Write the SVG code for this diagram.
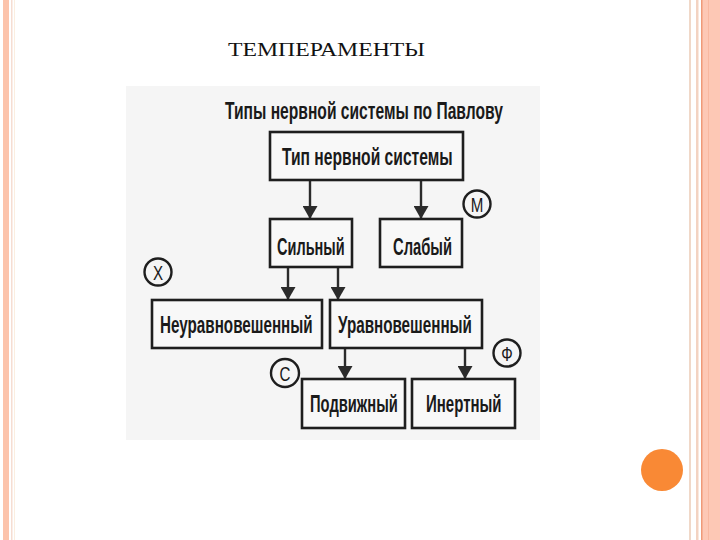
<svg xmlns="http://www.w3.org/2000/svg" width="720" height="540" viewBox="0 0 720 540">
<defs>
<marker id="ah" viewBox="0 0 13 15" refX="13" refY="7.5" markerWidth="13" markerHeight="15" markerUnits="userSpaceOnUse" orient="auto">
<path d="M0,0 L13,7.5 L0,15 Z" fill="#2b2b2b"/>
</marker>
<style>
.box{fill:#f8f8f8;stroke:#1e1e1e;stroke-width:2.6}
.t{font-family:"Liberation Sans","DejaVu Sans",sans-serif;font-size:23px;fill:#1a1a1a;font-weight:bold}
.badge{fill:none;stroke:#1e1e1e;stroke-width:2.4}
.bt{font-family:"Liberation Sans","DejaVu Sans",sans-serif;font-size:21px;fill:#1a1a1a;text-anchor:middle}
.c{stroke:#2b2b2b;stroke-width:2.4;fill:none;marker-end:url(#ah)}
</style>
</defs>
<rect width="720" height="540" fill="#ffffff"/>
<!-- slide borders -->
<rect x="3" y="0" width="6" height="540" fill="#fcc3ab"/>
<rect x="11" y="0" width="1.5" height="540" fill="#f6ddd2"/>
<rect x="14" y="0" width="1" height="540" fill="#fbeee0"/>
<rect x="689" y="0" width="2" height="540" fill="#f0d8c8"/>
<rect x="696" y="0" width="2.5" height="540" fill="#f3d3c2"/>
<rect x="701" y="0" width="19" height="540" fill="#fdc8b5"/>
<rect x="701" y="0" width="1.5" height="540" fill="#ef9a78"/>
<rect x="708" y="0" width="1" height="540" fill="#f8b8a0"/>
<circle cx="662" cy="470" r="21" fill="#f98935"/>
<text x="228" y="56" font-family="'Liberation Serif','DejaVu Serif',serif" font-size="19" fill="#111" textLength="197" lengthAdjust="spacingAndGlyphs">ТЕМПЕРАМЕНТЫ</text>
<!-- scanned area -->
<rect x="126" y="86" width="414" height="354" fill="#f5f5f5"/>
<g transform="translate(225,119) scale(0.72,1)"><text class="t" x="0" y="0" textLength="386" lengthAdjust="spacingAndGlyphs">Типы нервной системы по Павлову</text></g>
<g id="connectors">
<line class="c" x1="310" y1="180" x2="310" y2="219"/>
<line class="c" x1="421" y1="180" x2="421" y2="219"/>
<line class="c" x1="288" y1="267" x2="288" y2="300"/>
<line class="c" x1="338" y1="267" x2="338" y2="300"/>
<line class="c" x1="345" y1="348" x2="345" y2="379"/>
<line class="c" x1="465" y1="348" x2="465" y2="379"/>
</g>
<g id="n_root">
<rect class="box" x="270" y="132" width="193" height="48"/>
<g transform="translate(282,165) scale(0.72,1)"><text class="t" x="0" y="0" textLength="237" lengthAdjust="spacingAndGlyphs">Тип нервной системы</text></g>
</g>
<g id="n_strong">
<rect class="box" x="270" y="219" width="82" height="48"/>
<g transform="translate(277,255) scale(0.72,1)"><text class="t" x="0" y="0" textLength="94" lengthAdjust="spacingAndGlyphs">Сильный</text></g>
</g>
<g id="n_weak">
<rect class="box" x="380" y="219" width="82" height="48"/>
<g transform="translate(393,255) scale(0.72,1)"><text class="t" x="0" y="0" textLength="82" lengthAdjust="spacingAndGlyphs">Слабый</text></g>
</g>
<g id="n_unbal">
<rect class="box" x="152" y="300" width="170" height="48"/>
<g transform="translate(160,333) scale(0.72,1)"><text class="t" x="0" y="0" textLength="212" lengthAdjust="spacingAndGlyphs">Неуравновешенный</text></g>
</g>
<g id="n_bal">
<rect class="box" x="330" y="300" width="152" height="48"/>
<g transform="translate(338,333) scale(0.72,1)"><text class="t" x="0" y="0" textLength="186" lengthAdjust="spacingAndGlyphs">Уравновешенный</text></g>
</g>
<g id="n_mobile">
<rect class="box" x="302" y="379" width="103" height="49"/>
<g transform="translate(310,412) scale(0.72,1)"><text class="t" x="0" y="0" textLength="122" lengthAdjust="spacingAndGlyphs">Подвижный</text></g>
</g>
<g id="n_inert">
<rect class="box" x="412" y="379" width="103" height="49"/>
<g transform="translate(426,412) scale(0.72,1)"><text class="t" x="0" y="0" textLength="105" lengthAdjust="spacingAndGlyphs">Инертный</text></g>
</g>
<g id="b_m">
<circle class="badge" cx="477" cy="204" r="13.5"/>
<g transform="translate(477,211.5) scale(0.72,1)"><text class="bt" x="0" y="0">М</text></g>
</g>
<g id="b_x">
<circle class="badge" cx="158" cy="272" r="13.5"/>
<g transform="translate(158,279.5) scale(0.72,1)"><text class="bt" x="0" y="0">Х</text></g>
</g>
<g id="b_c">
<circle class="badge" cx="285" cy="373" r="14"/>
<g transform="translate(285,380.5) scale(0.72,1)"><text class="bt" x="0" y="0">С</text></g>
</g>
<g id="b_f">
<circle class="badge" cx="507" cy="353" r="13.5"/>
<g transform="translate(507,360.5) scale(0.72,1)"><text class="bt" x="0" y="0">Ф</text></g>
</g>
</svg>
